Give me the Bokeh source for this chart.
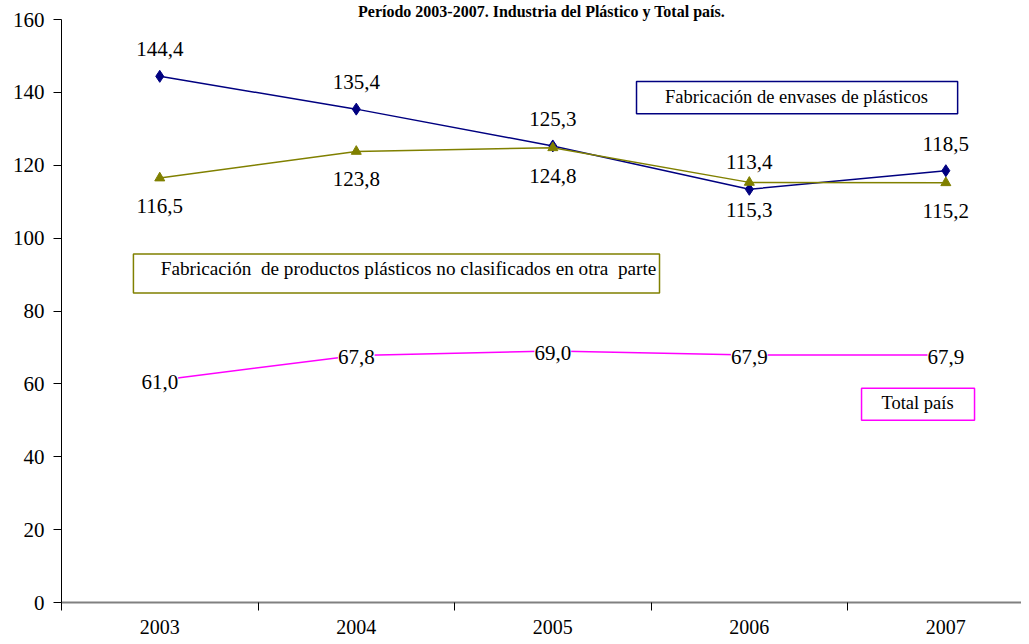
from bokeh.plotting import figure
from bokeh.models import ColumnDataSource, LabelSet, Label, BoxAnnotation, Range1d, FixedTicker
from bokeh.embed import file_html
from bokeh.resources import INLINE
from bokeh.core.properties import value

# ---- data ----
years = [2003, 2004, 2005, 2006, 2007]
envases = [144.4, 135.4, 125.3, 113.4, 118.5]
productos = [116.5, 123.8, 124.8, 115.3, 115.2]
total_pais = [61.0, 67.8, 69.0, 67.9, 67.9]
y_ticks = [0, 20, 40, 60, 80, 100, 120, 140, 160]
year_bounds = [2002.5, 2003.5, 2004.5, 2005.5, 2006.5, 2007.5]
title_text = "Período 2003-2007. Industria del Plástico y Total país."
name_envases = "Fabricación de envases de plásticos"
name_productos = "Fabricación  de productos plásticos no clasificados en otra  parte"
name_total = "Total país"

NAVY = "#000080"
OLIVE = "#808000"
PINK = "#FF00FF"
FONT_NAME = "Liberation Serif"
FONT = value(FONT_NAME)


def fmt(v):
    return f"{v:.1f}".replace(".", ",")


p = figure(width=1021, height=636, output_backend="svg", toolbar_location=None,
           x_range=Range1d(2002.5, 2007.385), y_range=Range1d(0, 160),
           min_border_left=61, min_border_right=0, min_border_top=0, min_border_bottom=34,
           title=title_text)
p.title.align = "center"
p.title.text_font = FONT_NAME
p.title.text_font_size = "16px"
p.title.text_font_style = "bold"
p.title.text_color = "black"
p.title.standoff = 0
p.title.offset = 0
p.outline_line_color = None
p.xgrid.grid_line_color = None
p.ygrid.grid_line_color = None
p.background_fill_color = "white"
p.border_fill_color = "white"

# x axis
p.xaxis.ticker = FixedTicker(ticks=years, minor_ticks=year_bounds)
p.xaxis.major_tick_out = 0
p.xaxis.major_tick_in = 0
p.xaxis.minor_tick_out = 8
p.xaxis.minor_tick_in = 0
p.xaxis.minor_tick_line_color = "black"
p.xaxis.axis_line_color = "#808080"
p.xaxis.axis_line_width = 2
p.xaxis.major_label_standoff = 9
p.xaxis.major_label_text_font = FONT_NAME
p.xaxis.major_label_text_font_size = "20px"
p.xaxis.major_label_text_color = "black"

# y axis
p.yaxis.ticker = FixedTicker(ticks=y_ticks)
p.yaxis.major_tick_out = 8
p.yaxis.major_tick_in = 0
p.yaxis.minor_tick_line_color = None
p.yaxis.axis_line_color = "black"
p.yaxis.major_tick_line_color = "black"
p.yaxis.major_label_standoff = 9
p.yaxis.major_label_text_font = FONT_NAME
p.yaxis.major_label_text_font_size = "21px"
p.yaxis.major_label_text_color = "black"

# series
p.line(years, envases, line_color=NAVY, line_width=1.5)
p.scatter(years, envases, marker="diamond", size=12, fill_color=NAVY, line_color=NAVY)
p.line(years, productos, line_color=OLIVE, line_width=1.5)
p.scatter(years, productos, marker="triangle", size=10, fill_color=OLIVE, line_color=OLIVE)
p.line(years, total_pais, line_color=PINK, line_width=1.5)

label_common = dict(text_align="center", text_baseline="middle", text_font=FONT,
                    text_font_size="21px", text_color="black",
                    background_fill_color="white")

src_env = ColumnDataSource(dict(x=years, y=envases, t=[fmt(v) for v in envases]))
src_prod = ColumnDataSource(dict(x=years, y=productos, t=[fmt(v) for v in productos]))
src_tot = ColumnDataSource(dict(x=years, y=total_pais, t=[fmt(v) for v in total_pais]))

p.add_layout(LabelSet(x="x", y="y", text="t", source=src_env, y_offset=27, **label_common))
p.add_layout(LabelSet(x="x", y="y", text="t", source=src_prod, y_offset=-28, **label_common))
p.add_layout(LabelSet(x="x", y="y", text="t", source=src_tot, y_offset=-2, **label_common))

# legend-like text boxes
boxes = [
    (2005.426, 2007.06, 134.16, 142.96, NAVY, 2006.24, 138.8, name_envases, "18.5px"),
    (2002.866, 2005.543, 84.95, 95.67, OLIVE, 2004.266, 91.8, name_productos, "19.2px"),
    (2006.571, 2007.146, 50.03, 58.83, PINK, 2006.856, 54.7, name_total, "18.5px"),
]
for l, r, b, t, c, tx, ty, txt, fs in boxes:
    p.add_layout(BoxAnnotation(left=l, right=r, bottom=b, top=t, fill_color="white",
                               fill_alpha=1.0, line_color=c, line_width=1.5, line_alpha=1.0))
    p.add_layout(Label(x=tx, y=ty, text=txt.replace("  ", " \u00a0"), text_align="center",
                       text_baseline="middle", text_font=FONT_NAME, text_font_size=fs,
                       text_color="black"))

open("out.html", "w").write(file_html(p, INLINE))
